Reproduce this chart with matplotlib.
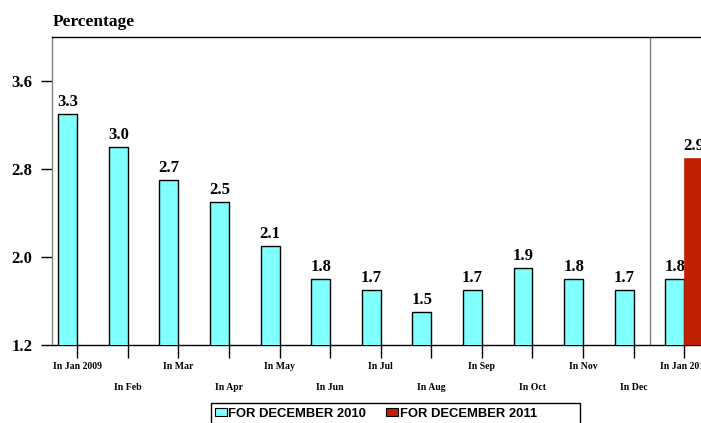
import matplotlib
matplotlib.use("Agg")
import matplotlib.pyplot as plt
from matplotlib.patches import Rectangle
import numpy as np

categories = ["In Jan 2009", "In Feb", "In Mar", "In Apr", "In May", "In Jun", "In Jul",
              "In Aug", "In Sep", "In Oct", "In Nov", "In Dec", "In Jan 2010"]
dec2010 = [3.3, 3.0, 2.7, 2.5, 2.1, 1.8, 1.7, 1.5, 1.7, 1.9, 1.8, 1.7, 1.8]
dec2011 = [None] * 12 + [2.9]
yticks = [1.2, 2.0, 2.8, 3.6]

W, H = 701, 423
fig = plt.figure(figsize=(W / 100, H / 100), dpi=100)
# axes: left 52px, right beyond figure (709.5px), top 37px, bottom 345px
ax = fig.add_axes([52 / W, 1 - 345 / H, (709.5 - 52) / W, (345 - 37) / H])

serif = "Liberation Serif"
x = np.arange(len(categories))
bw = 0.375
cyan = "#80FFFF"
red = "#C02000"
vfs = 12

ax.bar(x - bw / 2, dec2010, width=bw, color=cyan, edgecolor="black", linewidth=1.0,
       label="FOR DECEMBER 2010", zorder=3)
for xi, v in zip(x, dec2010):
    ax.text(xi - bw / 2, v + 0.04, f"{v:.1f}", ha="center", va="bottom",
            fontsize=vfs, fontweight="bold", family=serif)

rx = [xi for xi, v in zip(x, dec2011) if v is not None]
rv = [v for v in dec2011 if v is not None]
ax.bar([r + bw / 2 for r in rx], rv, width=bw, color=red, edgecolor=red, linewidth=0.5,
       label="FOR DECEMBER 2011", zorder=3)
for xi, v in zip(rx, rv):
    ax.text(xi + bw / 2, v + 0.04, f"{v:.1f}", ha="center", va="bottom",
            fontsize=vfs, fontweight="bold", family=serif)

ax.axvline(11.32, color="#808080", linewidth=1.0, zorder=2)

ax.set_xlim(-0.5, 12.5)
ax.set_ylim(1.2, 4.0)
ax.set_yticks(yticks)
ax.set_yticklabels([f"{t:.1f}" for t in yticks], fontsize=vfs, fontweight="bold", family=serif)
ax.set_xticks(x)
ax.set_xticklabels([c if i % 2 == 0 else "\n\n" + c for i, c in enumerate(categories)],
                   fontsize=7, fontweight="bold", family=serif, linespacing=1.25)
ax.tick_params(axis="x", direction="out", length=9, width=1, pad=3, color="black")
ax.tick_params(axis="y", direction="out", length=8, width=1, pad=6, color="black")

ax.spines["right"].set_visible(False)
ax.spines["top"].set_color("black")
ax.spines["top"].set_linewidth(1.0)
ax.spines["left"].set_color("#808080")
ax.spines["left"].set_linewidth(1.0)
ax.spines["bottom"].set_color("black")
ax.spines["bottom"].set_linewidth(1.0)

fig.text(53 / W, 1 - 22 / H, "Percentage", fontsize=12.5, fontweight="bold", family=serif,
         ha="left", va="center")

# legend frame (extends past the bottom edge like the reference)
fig.patches.append(Rectangle((211 / W, -10 / H), (580 - 211) / W, (10 + 423 - 403) / H,
                             transform=fig.transFigure, facecolor="white",
                             edgecolor="black", linewidth=1.0))
leg = fig.legend(loc="upper left", bbox_to_anchor=(215 / W, 1 - 408 / H), ncol=2,
                 frameon=False,
                 prop={"family": "Liberation Sans", "weight": "bold", "size": 9.4},
                 handlelength=0.92, handleheight=0.55, handletextpad=0.1, columnspacing=1.55,
                 borderpad=0, borderaxespad=0)
for h in leg.legend_handles:
    h.set_edgecolor("black")
    h.set_linewidth(0.8)

fig.savefig("out.png", dpi=100)
